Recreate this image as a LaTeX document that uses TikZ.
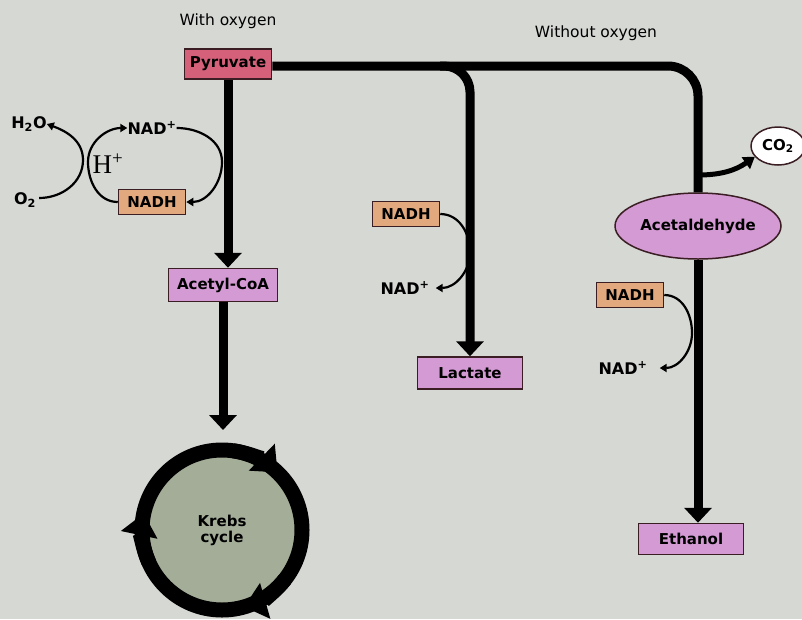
\documentclass[tikz,border=0pt]{standalone}
\usepackage{fontspec}
\setmainfont{DejaVu Sans}
\newfontfamily\hfont{Liberation Serif}
\usetikzlibrary{arrows.meta,shapes.geometric}
\definecolor{bg}{HTML}{D6D8D4}
\definecolor{pyrfill}{HTML}{D4607A}
\definecolor{purfill}{HTML}{D49AD4}
\definecolor{nadhfill}{HTML}{E2A97E}
\definecolor{krebsfill}{HTML}{A3AD98}
\definecolor{boxline}{HTML}{3A1E24}
\begin{document}
\begin{tikzpicture}[x=1pt,y=-1pt,
  lbl/.style={font=\fontsize{16}{16}\selectfont\bfseries, inner sep=0},
  head/.style={font=\fontsize{15.5}{16}\selectfont, inner sep=0},
  box/.style={draw=boxline, line width=1.5pt, inner sep=0, font=\fontsize{15}{15}\selectfont\bfseries},
  nadhbox/.style={box, fill=nadhfill, minimum width=67pt, minimum height=25pt},
  main/.style={line width=9pt, draw=black},
  mainarrow/.style={main, -{Triangle[width=27pt,length=15pt]}},
  midarrow/.style={line width=5pt, -{Triangle[width=14pt,length=11pt]}},
  thinarrow/.style={line width=2.2pt, -{Triangle[width=8pt,length=7pt]}},
  ringarrow/.style={line width=15pt, -{Triangle[width=36pt,length=22pt]}}
]
\useasboundingbox[fill=bg] (0,0) rectangle (802,619);

% headings
\node[head] (withox) at (228,21) {With oxygen};
\node[head] (withoutox) at (596,33) {Without oxygen};

% nodes
\node[box, fill=pyrfill, minimum width=87pt, minimum height=30pt] (pyr) at (228,64) {Pyruvate};
\node[box, fill=purfill, minimum width=109pt, minimum height=33pt] (acoa) at (223,285) {Acetyl-CoA};
\node[circle, draw=black, line width=15pt, fill=krebsfill, minimum size=160pt, inner sep=0, outer sep=0,
      font=\fontsize{15}{16}\selectfont\bfseries, align=center] (krebs) at (222,530) {Krebs\\cycle};

\node[lbl] (h2o) at (29,124) {H\textsubscript{2}O};
\node[lbl] (o2) at (25,200) {O\textsubscript{2}};
\node[lbl] (nadp1) at (152,128) {NAD\textsuperscript{+}};
\node[inner sep=0, font=\hfont\fontsize{27}{27}\selectfont] (hplus) at (108,164) {H\textsuperscript{+}};
\node[nadhbox] (nadh1) at (152,202) {NADH};

\node[nadhbox] (nadh2) at (406,214) {NADH};
\node[lbl] (nadp2) at (405,288) {NAD\textsuperscript{+}};
\node[box, fill=purfill, minimum width=105pt, minimum height=32pt] (lac) at (470,373) {Lactate};

\node[ellipse, draw=boxline, line width=1.5pt, fill=purfill, minimum width=166pt, minimum height=66pt,
      inner sep=0, font=\fontsize{15}{15}\selectfont\bfseries] (acet) at (698,226) {Acetaldehyde};
\node[ellipse, draw=boxline, line width=1.5pt, fill=white, minimum width=54pt, minimum height=38pt,
      inner sep=0, font=\fontsize{15}{15}\selectfont\bfseries] (co2) at (778,146) {CO\textsubscript{2}};
\node[nadhbox] (nadh3) at (630,295) {NADH};
\node[lbl] (nadp3) at (623,368) {NAD\textsuperscript{+}};
\node[box, fill=purfill, minimum width=105pt, minimum height=31pt] (eth) at (691,539) {Ethanol};

% main pathways
\coordinate (corner) at (698,66);
\coordinate (lacbranch) at (440,66);
\coordinate (co2branch) at (698,175);
\draw[main, rounded corners=30pt] (pyr.east |- corner) -- (corner) -- (acet.north);
\draw[mainarrow, rounded corners=26pt] (lacbranch) -| (lac.north);
\draw[mainarrow] (pyr.south) -- (pyr.south |- acoa.north);
\draw[mainarrow, shorten >=20pt] (acoa.south) -- (acoa.south |- krebs.north);
\draw[mainarrow] (acet.south) -- (acet.south |- eth.north);
\draw[midarrow] (co2branch) to[out=0,in=215] (co2.205);

% krebs ring arrows
\draw[ringarrow] (krebs.center) ++(-82:80) arc[start angle=-82, end angle=-46, radius=80];
\draw[ringarrow] (krebs.center) ++(156:80) arc[start angle=156, end angle=192, radius=80];
\draw[ringarrow] (krebs.center) ++(38:80) arc[start angle=38, end angle=74, radius=80];

% small cycles
\draw[thinarrow] (o2.east) ++(3,-2) coordinate (o2s) to[out=0,in=-90] (83,160) to[out=90,in=-20] (h2o.east);
\draw[thinarrow] (nadh1.west) to[out=180,in=-90] (88,162) to[out=90,in=180] (nadp1.west);
\draw[thinarrow] (nadp1.east) to[out=0,in=90] (222,162) to[out=-90,in=0] (nadh1.east);
\draw[thinarrow] (nadh2.east) to[out=0,in=90] (470,252) to[out=-90,in=0] ([xshift=6pt]nadp2.east);
\draw[thinarrow] (nadh3.east) to[out=0,in=90] (692,333) to[out=-90,in=0] ([xshift=12pt]nadp3.east);
\end{tikzpicture}
\end{document}
